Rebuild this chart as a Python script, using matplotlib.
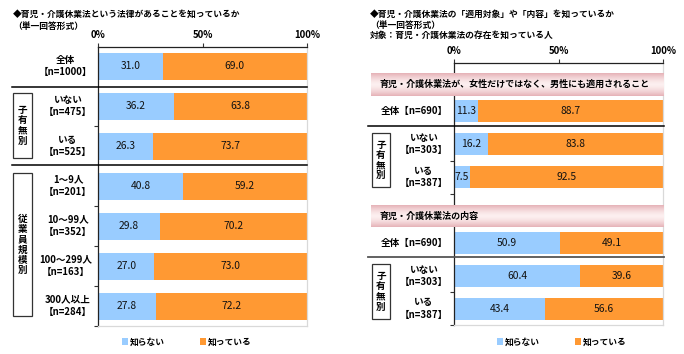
import numpy as np
import matplotlib.pyplot as plt
from matplotlib.patches import Rectangle
from matplotlib.lines import Line2D

plt.rcParams['font.family'] = ['Noto Sans CJK JP', 'DejaVu Sans']

# ---- data ----
left_labels = ["全体\n【n=1000】", "いない\n【n=475】", "いる\n【n=525】",
               "1～9人\n【n=201】", "10～99人\n【n=352】", "100～299人\n【n=163】",
               "300人以上\n【n=284】"]
left_unknown = [31.0, 36.2, 26.3, 40.8, 29.8, 27.0, 27.8]
left_known = [69.0, 63.8, 73.7, 59.2, 70.2, 73.0, 72.2]

right_labels = ["全体【n=690】", "いない\n【n=303】", "いる\n【n=387】",
                "全体【n=690】", "いない\n【n=303】", "いる\n【n=387】"]
right_unknown = [11.3, 16.2, 7.5, 50.9, 60.4, 43.4]
right_known = [88.7, 83.8, 92.5, 49.1, 39.6, 56.6]
right_headers = ["育児・介護休業法が、女性だけではなく、男性にも適用されること",
                 "育児・介護休業法の内容"]

series_names = ["知らない", "知っている"]
tick_labels = ["0%", "50%", "100%"]

BLUE = "#99CCFF"
ORANGE = "#FF9933"
W, H = 684, 354
FS = 6.3      # titles, legend, band text
LFS = 6.9     # category labels
VFS = 7.4     # values in bars


def fx(x):
    return x / W


def fy(y):
    return 1 - y / H


fig = plt.figure(figsize=(W / 100, H / 100), dpi=100)


def style_axes(ax, bottom, top, yticks):
    ax.set_xlim(0, 100)
    ax.set_ylim(bottom, top)
    ax.xaxis.tick_top()
    ax.set_xticks([0, 50, 100])
    ax.set_xticklabels(tick_labels, fontsize=LFS, fontweight='bold')
    ax.tick_params(axis='x', length=3, width=0.8, pad=2, color='#333333')
    ax.set_yticks(yticks)
    ax.set_yticklabels([])
    ax.tick_params(axis='y', length=3, width=0.8, color='#333333')
    ax.spines['left'].set_color('#222222')
    ax.spines['top'].set_color('#222222')
    ax.spines['right'].set_color('#D9D9D9')
    ax.spines['bottom'].set_color('#D9D9D9')
    for s in ax.spines.values():
        s.set_linewidth(0.9)


def draw_bars(ax, pos, unknown, known, h):
    b1 = ax.barh(pos, unknown, height=h, color=BLUE, label=series_names[0])
    b2 = ax.barh(pos, known, left=unknown, height=h, color=ORANGE, label=series_names[1])
    for p, u, k in zip(pos, unknown, known):
        ax.text(u / 2, p, f"{u:.1f}", ha='center', va='center', fontsize=VFS, color='#111111')
        ax.text(u + k / 2, p, f"{k:.1f}", ha='center', va='center', fontsize=VFS, color='#111111')
    return b1, b2


def hline(y, x0, x1, color='black', lw=1.1):
    fig.add_artist(Line2D([fx(x0), fx(x1)], [fy(y), fy(y)], transform=fig.transFigure,
                          color=color, lw=lw))


def group_box(x0, y0, x1, y1, text):
    fig.add_artist(Rectangle((fx(x0), fy(y1)), fx(x1) - fx(x0), fy(y0) - fy(y1),
                             transform=fig.transFigure, fill=False, ec='#333333', lw=0.9))
    fig.text(fx((x0 + x1) / 2), fy((y0 + y1) / 2), "\n".join(text), ha='center', va='center',
             fontsize=LFS, fontweight='bold', linespacing=1.02)


# ---- left chart ----
ax1 = fig.add_axes([fx(98), fy(326), fx(307) - fx(98), fy(47) - fy(326)])
left_pos = [66, 106, 146, 186, 226, 266, 306]
style_axes(ax1, 326, 47, [126, 206, 246, 286, 326])
bars = draw_bars(ax1, left_pos, left_unknown, left_known, 27)
for p, lab in zip(left_pos, left_labels):
    fig.text(fx(92), fy(p), lab, ha='right', va='center', multialignment='center',
             fontsize=LFS, fontweight='bold', linespacing=1.35)
hline(86.5, 12, 307)
hline(165.5, 12, 307)
group_box(13, 93, 32, 158, "子有無別")
group_box(13, 173, 32, 316, "従業員規模別")
fig.text(fx(13), fy(14), "◆育児・介護休業法という法律があることを知っているか",
         fontsize=FS, fontweight='bold', va='center')
fig.text(fx(13), fy(26), "（単一回答形式）", fontsize=FS, fontweight='bold', va='center')
ax1.legend(handles=bars, loc='center', bbox_to_anchor=(fx(187), fy(342)),
           bbox_transform=fig.transFigure, ncol=2, frameon=False,
           handlelength=0.7, handleheight=0.7, handletextpad=0.2, columnspacing=4.0,
           prop={'weight': 'bold', 'size': FS})

# ---- right chart ----
ax2 = fig.add_axes([fx(454), fy(325), fx(663) - fx(454), fy(63) - fy(325)])
right_pos = [110.5, 144, 177, 243, 276, 308.5]
style_axes(ax2, 325, 63, [160.5, 194, 292, 325])
bars2 = draw_bars(ax2, right_pos, right_unknown, right_known, 22)
for p, lab in zip(right_pos, right_labels):
    fig.text(fx(448), fy(p), lab, ha='right', va='center', multialignment='center',
             fontsize=LFS, fontweight='bold', linespacing=1.35)
hline(126, 368, 664)
hline(257, 368, 664, color='#555555', lw=1.3)
group_box(372, 133, 390, 187, "子有無別")
group_box(372, 264, 390, 319, "子有無別")

grad = np.abs(np.linspace(-1, 1, 50))[:, None] ** 1.5
edge = np.array([0.90, 0.70, 0.72])
center = np.array([0.99, 0.94, 0.94])
img = center + (edge - center) * grad[..., None]
for (y0, y1), txt in zip([(73, 96), (205, 227)], right_headers):
    bax = fig.add_axes([fx(371), fy(y1), fx(664) - fx(371), fy(y0) - fy(y1)], zorder=5)
    bax.imshow(img * np.ones((1, 10, 1)), aspect='auto', extent=(0, 1, 0, 1))
    bax.set_axis_off()
    bax.text(0.03, 0.5, txt, transform=bax.transAxes, ha='left', va='center',
             fontsize=FS + 0.2, fontweight='bold')

fig.text(fx(370), fy(14), "◆育児・介護休業法の「適用対象」や「内容」を知っているか",
         fontsize=FS, fontweight='bold', va='center')
fig.text(fx(370), fy(25), "（単一回答形式）", fontsize=FS, fontweight='bold', va='center')
fig.text(fx(370), fy(36), "対象：育児・介護休業法の存在を知っている人", fontsize=FS,
         fontweight='bold', va='center')
ax2.legend(handles=bars2, loc='center', bbox_to_anchor=(fx(562), fy(342)),
           bbox_transform=fig.transFigure, ncol=2, frameon=False,
           handlelength=0.7, handleheight=0.7, handletextpad=0.2, columnspacing=4.0,
           prop={'weight': 'bold', 'size': FS})

fig.savefig("out.png", dpi=100)
